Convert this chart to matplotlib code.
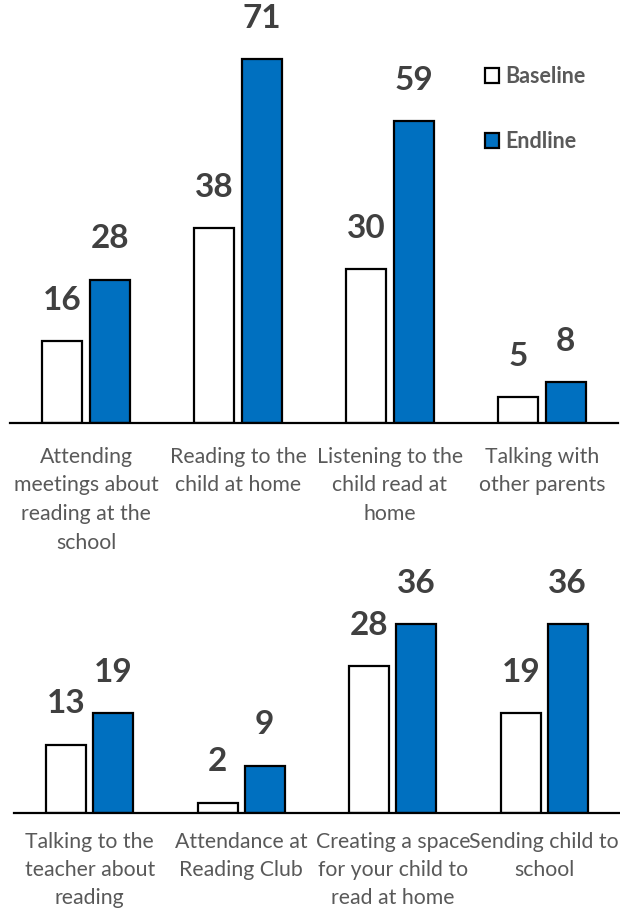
import matplotlib
matplotlib.use("Agg")
import matplotlib.pyplot as plt
import numpy as np

# ==========================================================
# Dados
# ==========================================================
categorias_cima = [
    "Attending\nmeetings about\nreading at the\nschool",
    "Reading to the\nchild at home",
    "Listening to the\nchild read at\nhome",
    "Talking with\nother parents",
]
baseline_cima = [16, 38, 30, 5]
endline_cima = [28, 71, 59, 8]

categorias_baixo = [
    "Talking to the\nteacher about\nreading",
    "Attendance at\nReading Club",
    "Creating a space\nfor your child to\nread at home",
    "Sending child to\nschool",
]
baseline_baixo = [13, 2, 28, 19]
endline_baixo = [19, 9, 36, 36]

series = ["Baseline", "Endline"]

AZUL = "#0070C0"
CINZA_NUM = "#404040"
CINZA_TXT = "#595959"

plt.rcParams["font.family"] = ["Lato", "DejaVu Sans"]

fig = plt.figure(figsize=(6.2, 9.15), dpi=100)
W, H = 620, 915


def painel(ax, cats, base, end, ymax, pad=17, espaco=1.55):
    x = np.arange(len(cats))
    larg = 0.263
    desl = 0.155
    b1 = ax.bar(x - desl, base, larg, color="white", edgecolor="black",
                linewidth=1.6, label=series[0], zorder=2)
    b2 = ax.bar(x + desl, end, larg, color=AZUL, edgecolor="black",
                linewidth=1.6, label=series[1], zorder=2)
    for barras in (b1, b2):
        for r in barras:
            ax.annotate(f"{r.get_height():.0f}",
                        (r.get_x() + r.get_width() / 2, r.get_height()),
                        xytext=(0, 19), textcoords="offset points",
                        ha="center", va="bottom", fontsize=24,
                        fontweight="bold", color=CINZA_NUM)
    ax.set_xlim(-0.5, 3.5)
    ax.set_ylim(0, ymax)
    ax.set_xticks(x)
    ax.set_xticklabels(cats, fontsize=15.3, color=CINZA_TXT,
                       linespacing=espaco)
    ax.tick_params(axis="x", length=0, pad=pad)
    ax.set_yticks([])
    for lado in ["top", "left", "right"]:
        ax.spines[lado].set_visible(False)
    ax.spines["bottom"].set_linewidth(1.6)
    ax.spines["bottom"].set_color("black")
    return b1, b2


ax1 = fig.add_axes([10 / W, 1 - 423 / H, 608 / W, 423 / H])
h1, h2 = painel(ax1, categorias_cima, baseline_cima, endline_cima, 423 / 5.12)

# painel de baixo um pouco mais alto para o texto caber na figura
ax2 = fig.add_axes([14 / W, 1 - 813 / H, 606 / W, 253 / H])
painel(ax2, categorias_baixo, baseline_baixo, endline_baixo, 253 / 5.24,
       pad=14, espaco=1.5)

leg = ax1.legend(handles=[h1, h2], loc="upper left",
                 bbox_to_anchor=((485 - 10) / 608, 1 - 66 / 423),
                 frameon=False, borderpad=0, borderaxespad=0,
                 handlelength=0.65, handleheight=0.65, handletextpad=0.3,
                 labelspacing=2.05, prop={"size": 15.5, "weight": "bold"})
for t in leg.get_texts():
    t.set_color(CINZA_TXT)

fig.savefig("out.png", dpi=100)
